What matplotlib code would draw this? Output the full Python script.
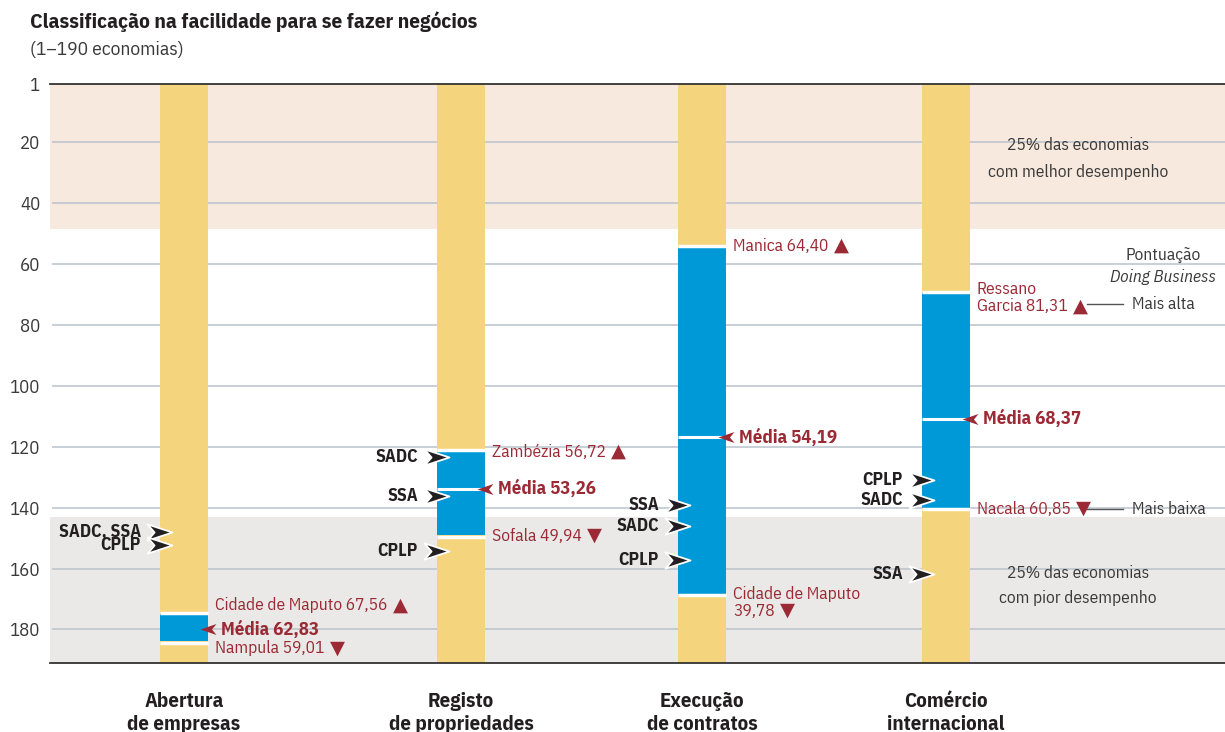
import matplotlib.pyplot as plt
from matplotlib.markers import MarkerStyle
from matplotlib.path import Path

plt.rcParams["font.family"] = ["IBM Plex Sans Condensed", "DejaVu Sans"]

# ---- data (ranks, 1 = best) ----
categories = ["Abertura\nde empresas", "Registo\nde propriedades",
              "Execução\nde contratos", "Comércio\ninternacional"]
best_rank = [175.0, 121.6, 54.8, 69.7]
mean_rank = [180.0, 133.9, 117.0, 110.9]
worst_rank = [183.9, 149.0, 168.2, 140.1]
best_label = ["Cidade de Maputo 67,56", "Zambézia 56,72", "Manica 64,40",
              "Ressano\nGarcia 81,31"]
worst_label = ["Nampula 59,01", "Sofala 49,94", "Cidade de Maputo\n39,78",
               "Nacala 60,85"]
mean_score = [62.83, 53.26, 54.19, 68.37]
sadc_rank = [147.9, 123.3, 146.0, 137.5]
ssa_rank = [147.9, 136.1, 139.2, 161.8]
cplp_rank = [152.2, 154.1, 157.1, 130.8]
n_economies = 190
top_quartile_end = 48.5
bottom_quartile_start = 143
yticks = [1, 20, 40, 60, 80, 100, 120, 140, 160, 180]

# ---- layout / style ----
XPOS = [134, 411, 652, 896]      # column centres (axes px)
BAR_W = 48
PT = 0.72                        # px -> points at dpi 100
best_dy = [-9, 0, -2, -4]        # px shift of label first line
worst_dy = [7, 1, 0, 1]
mean_gap = [False, True, True, True]

YELLOW = "#f4d47c"
BLUE = "#0099d8"
RED = "#9b2a35"
DARK = "#231f20"
GREY_TXT = "#3a3a3a"

fig = plt.figure(figsize=(12.25, 7.32), dpi=100)
ax = fig.add_axes([50 / 1225, 1 - 663 / 732, 1175 / 1225, 579 / 732])
ax.set_xlim(0, 1175)
ax.set_ylim(n_economies + 1, 1)

# quartile bands and grid
ax.axhspan(1, top_quartile_end, color="#f7e9dd", lw=0, zorder=0)
ax.axhspan(bottom_quartile_start, n_economies + 1, color="#ebe9e7", lw=0, zorder=0)
ax.hlines(yticks[1:], 2, 1175, color="#b9c2cb", lw=1.1, zorder=1)

# bars
ax.bar(XPOS, n_economies, bottom=1, width=BAR_W, color=YELLOW, zorder=2)
heights = [w - b for b, w in zip(best_rank, worst_rank)]
ax.bar(XPOS, heights, bottom=best_rank, width=BAR_W, color=BLUE, zorder=3)
for x, b, m, w, gap in zip(XPOS, best_rank, mean_rank, worst_rank, mean_gap):
    ax.hlines([b - 0.5, w + 0.5], x - BAR_W / 2, x + BAR_W / 2, color="white", lw=2.5, zorder=4)
    if gap:
        ax.hlines(m, x - BAR_W / 2, x + BAR_W / 2, color="white", lw=2.2, zorder=4)

# markers
chev_right = MarkerStyle(Path([(0, 0), (-2.3, 0.75), (-1.65, 0), (-2.3, -0.75), (0, 0)],
                              [Path.MOVETO, Path.LINETO, Path.LINETO, Path.LINETO, Path.CLOSEPOLY]))
chev_left = MarkerStyle(Path([(0, 0), (1.6, 0.55), (1.15, 0), (1.6, -0.55), (0, 0)],
                             [Path.MOVETO, Path.LINETO, Path.LINETO, Path.LINETO, Path.CLOSEPOLY]))


def red_label(x, y, text, dy_px, tri):
    t = None
    for i, line in enumerate(text.split("\n")):
        t = ax.annotate(line, xy=(x, y), xytext=(7 * PT, -(dy_px + i * 17) * PT),
                        textcoords="offset points", ha="left", va="center",
                        color=RED, fontsize=12.5, zorder=6)
    ax.annotate(tri, xy=(1, 0.5), xycoords=t, xytext=(4, 0), textcoords="offset points",
                ha="left", va="center", color=RED, fontsize=14)


for i, x in enumerate(XPOS):
    right = x + BAR_W / 2
    left = x - BAR_W / 2
    red_label(right, best_rank[i], best_label[i], best_dy[i], "▲")
    red_label(right, worst_rank[i], worst_label[i], worst_dy[i], "▼")

    # mean
    ax.plot(right - 8, mean_rank[i], marker=chev_left, ms=23, color=RED, mew=0, zorder=6,
            clip_on=False)
    ax.annotate("Média " + f"{mean_score[i]:.2f}".replace(".", ","), xy=(right, mean_rank[i]),
                xytext=(13 * PT, 0), textcoords="offset points", ha="left", va="center",
                color=RED, fontsize=13.5, fontweight="bold", zorder=6)

    # comparator groups
    groups = {}
    for name, ranks in (("SADC", sadc_rank), ("SSA", ssa_rank), ("CPLP", cplp_rank)):
        groups.setdefault(ranks[i], []).append(name)
    for r, names in groups.items():
        tip = left + 12
        ax.plot(tip, r, marker=chev_right, ms=36, color=DARK, mec="white", mew=1.3, zorder=6)
        ax.annotate(", ".join(names), xy=(tip, r), xytext=(-31 * PT, 0), textcoords="offset points",
                    ha="right", va="center", color=DARK, fontsize=12.8, fontweight="bold", zorder=6)

# right-hand notes
ax.text(1028, 25.3, "25% das economias\ncom melhor desempenho", ha="center", va="center",
        fontsize=12.5, color=GREY_TXT, linespacing=1.85)
ax.text(1028, 165.5, "25% das economias\ncom pior desempenho", ha="center", va="center",
        fontsize=12.5, color=GREY_TXT, linespacing=1.65)
ax.text(1113, 57, "Pontuação", ha="center", va="center", fontsize=12.5, color=GREY_TXT)
ax.text(1113, 64.3, "Doing Business", ha="center", va="center", fontsize=12.5,
        color=GREY_TXT, style="italic")
ax.plot([1037, 1073], [73.1, 73.1], color="#555555", lw=1)
ax.text(1082, 73.1, "Mais alta", ha="left", va="center", fontsize=12.5, color=GREY_TXT)
ax.plot([1037, 1073], [140.4, 140.4], color="#555555", lw=1)
ax.text(1082, 140.4, "Mais baixa", ha="left", va="center", fontsize=12.5, color=GREY_TXT)

# axes styling
ax.set_yticks(yticks)
ax.tick_params(axis="y", length=0, pad=7, labelsize=13.5, labelcolor=GREY_TXT)
ax.set_xticks(XPOS)
ax.set_xticklabels(categories, fontsize=15, fontweight="bold", color=DARK, linespacing=1.28)
ax.tick_params(axis="x", length=0, pad=21)
for s in ("left", "right"):
    ax.spines[s].set_visible(False)
for s in ("top", "bottom"):
    ax.spines[s].set_color("#333333")
    ax.spines[s].set_linewidth(1.3)
    ax.spines[s].set_zorder(5)

fig.text(30 / 1225, 1 - 22 / 732, "Classificação na facilidade para se fazer negócios",
         ha="left", va="center", fontsize=15.4, fontweight="bold", color=DARK)
fig.text(30 / 1225, 1 - 50 / 732, "(1–190 economias)", ha="left", va="center",
         fontsize=14, color=GREY_TXT)

fig.savefig("out.png", dpi=100)
